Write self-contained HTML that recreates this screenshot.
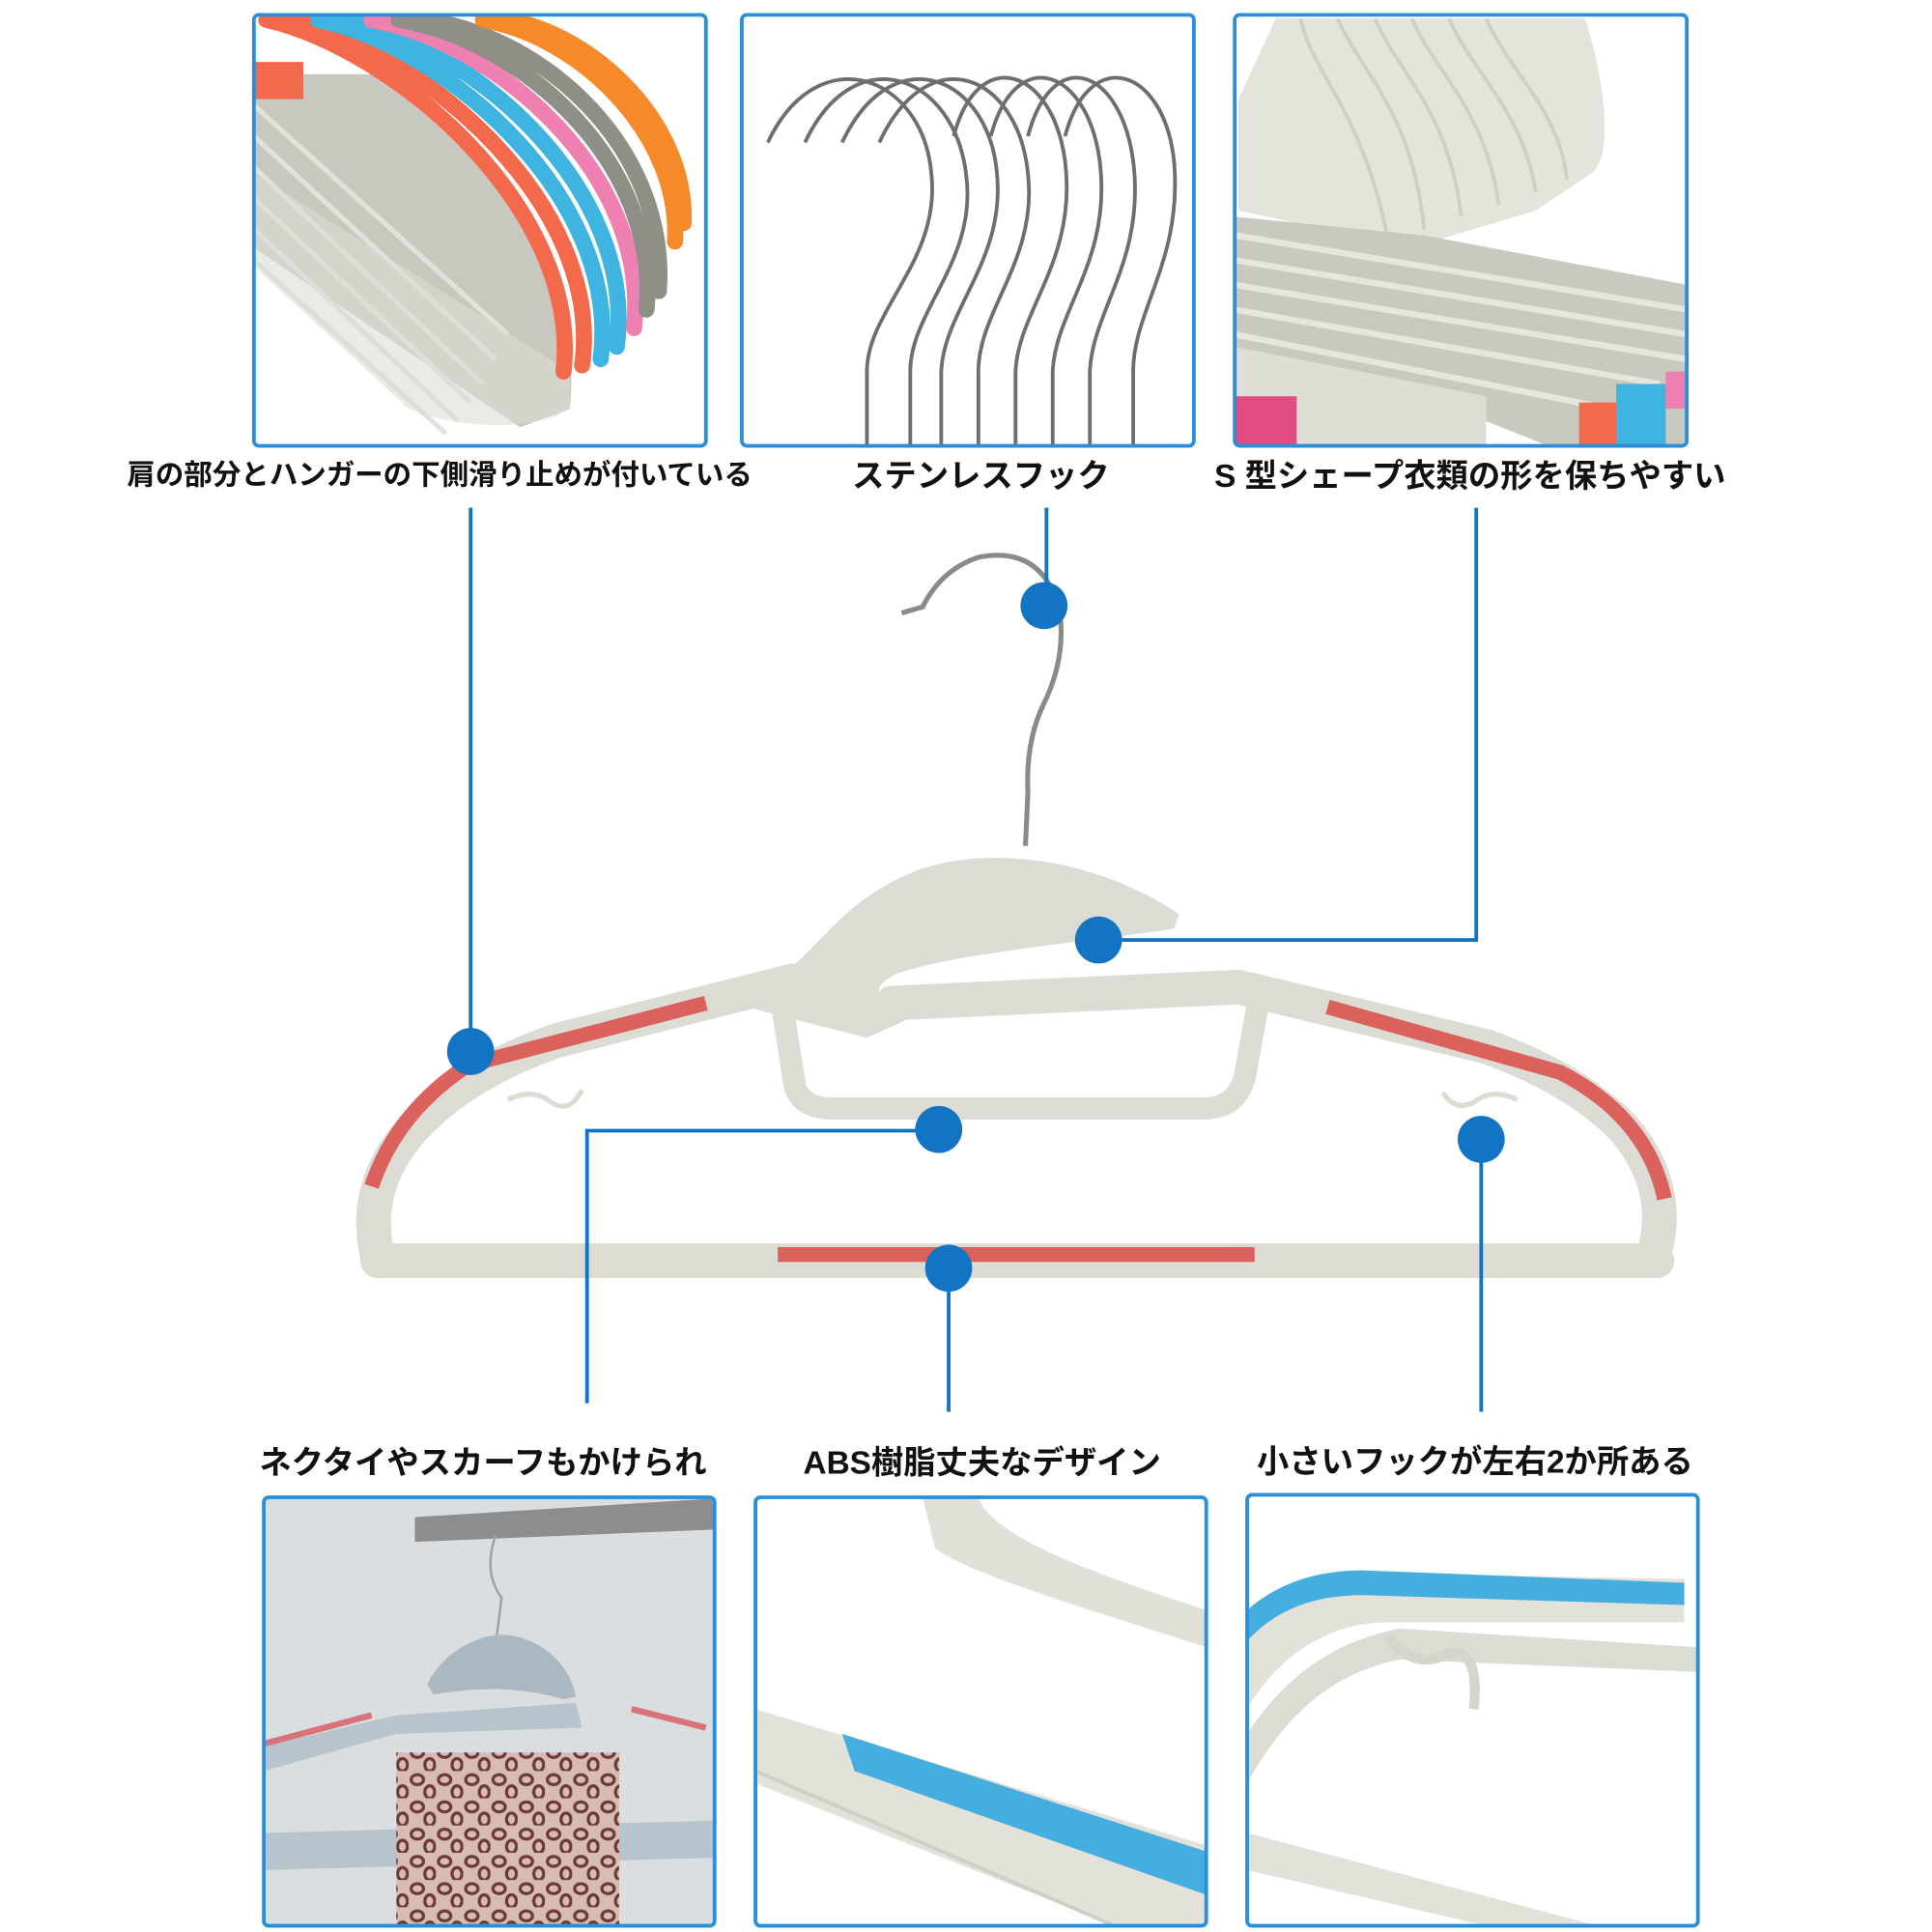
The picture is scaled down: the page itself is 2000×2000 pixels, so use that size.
<!DOCTYPE html>
<html><head><meta charset="utf-8">
<style>
html,body{margin:0;padding:0;background:#fff;}
svg{display:block;}
text{font-family:"Liberation Sans","Noto Sans CJK JP",sans-serif;font-weight:bold;fill:#111;}
</style></head>
<body>
<svg width="2000" height="2000" viewBox="0 0 1560 1560" xmlns="http://www.w3.org/2000/svg">
<defs>
<clipPath id="c1"><rect x="205" y="12" width="365" height="348" rx="4"/></clipPath>
<clipPath id="c2"><rect x="599" y="12" width="365" height="348" rx="4"/></clipPath>
<clipPath id="c3"><rect x="997" y="12" width="365" height="348" rx="4"/></clipPath>
<clipPath id="c4"><rect x="213" y="1209" width="364" height="346" rx="4"/></clipPath>
<clipPath id="c5"><rect x="610" y="1209" width="364" height="346" rx="4"/></clipPath>
<clipPath id="c6"><rect x="1007" y="1207" width="364" height="348" rx="4"/></clipPath>
<pattern id="leo" width="22" height="22" patternUnits="userSpaceOnUse">
<rect width="22" height="22" fill="#d8bcb4"/>
<ellipse cx="7" cy="7" rx="5" ry="4" fill="none" stroke="#6b3a34" stroke-width="2.5"/>
<ellipse cx="17" cy="17" rx="4" ry="5" fill="none" stroke="#6b3a34" stroke-width="2.5"/>
</pattern>
</defs>

<!-- Panel 1 -->
<g clip-path="url(#c1)">
<rect x="205" y="12" width="365" height="348" fill="#fff"/>
<path d="M205,60 L300,60 C420,140 470,250 460,330 L420,345 L205,200 Z" fill="#c8c8c1"/>
<g fill="none" stroke="#e2e2dc" stroke-width="4">
<path d="M205,110 L400,290"/><path d="M205,135 L390,310"/><path d="M205,160 L380,325"/><path d="M205,185 L370,340"/><path d="M205,85 L410,270"/><path d="M205,210 L360,350"/>
</g>
<path d="M205,215 L330,330 C380,350 440,345 460,330 L460,300 L205,140 Z" fill="#dcdcd6" opacity="0.6"/>
<g fill="none" stroke-width="13" stroke-linecap="round">
<path d="M215,16 C320,40 470,170 455,300" stroke="#f26a4b"/>
<path d="M235,16 C340,40 488,165 470,295" stroke="#f26a4b"/>
<path d="M257,16 C360,38 502,160 485,290" stroke="#3fb4e0"/>
<path d="M279,16 C380,36 515,152 498,280" stroke="#3fb4e0"/>
<path d="M300,16 C400,34 525,140 512,265" stroke="#ef80b2"/>
<path d="M322,16 C420,32 533,130 522,250" stroke="#8f8f88"/>
<path d="M344,16 C440,30 540,120 532,235" stroke="#8f8f88"/>
<path d="M390,16 C470,30 550,110 545,195" stroke="#f58a2b"/>
<path d="M410,16 C480,28 555,100 552,180" stroke="#f58a2b"/>
</g>
<rect x="205" y="50" width="40" height="30" fill="#f26a4b"/>
</g>
<rect x="205" y="12" width="365" height="348" rx="4" fill="none" stroke="#2a8fd8" stroke-width="3"/>

<!-- Panel 2 -->
<g clip-path="url(#c2)">
<rect x="599" y="12" width="365" height="348" fill="#fff"/>
<g fill="none" stroke="#6e6e6e" stroke-width="3">
<path d="M700,365 L700,300 C700,250 760,210 752,140 C745,60 660,30 620,115"/>
<path d="M735,365 L735,300 C735,250 790,210 780,140 C770,60 690,30 650,115"/>
<path d="M760,365 L760,300 C762,250 812,210 805,140 C798,60 720,30 680,115"/>
<path d="M790,365 L790,300 C790,250 838,210 830,140 C822,60 750,30 710,115"/>
<path d="M820,365 L820,300 C822,250 870,210 860,130 C850,55 790,35 770,110"/>
<path d="M850,365 L850,300 C852,250 898,210 888,130 C878,55 820,35 800,110"/>
<path d="M880,365 L880,300 C882,250 925,210 915,130 C905,55 850,35 830,110"/>
<path d="M915,365 L915,300 C915,250 955,210 948,130 C940,55 880,35 860,110"/>
</g>
</g>
<rect x="599" y="12" width="365" height="348" rx="4" fill="none" stroke="#2a8fd8" stroke-width="3"/>

<!-- Panel 3 -->
<g clip-path="url(#c3)">
<rect x="997" y="12" width="365" height="348" fill="#fff"/>
<path d="M1000,80 L1030,15 L1280,15 C1300,80 1300,130 1285,140 L1240,170 L1140,200 L1000,170 Z" fill="#e4e4dc"/>
<g fill="none" stroke="#cfcfc6" stroke-width="3">
<path d="M1050,15 C1060,60 1100,90 1120,190"/><path d="M1080,15 C1100,60 1140,90 1150,185"/><path d="M1110,15 C1130,60 1170,90 1180,175"/><path d="M1140,15 C1160,60 1200,90 1210,165"/><path d="M1170,15 C1190,60 1230,90 1240,155"/><path d="M1200,15 C1220,60 1260,90 1265,145"/>
</g>
<path d="M997,175 L1150,190 L1362,230 L1362,360 L1250,360 L1150,320 L997,300 Z" fill="#c9c9c0"/>
<g fill="none" stroke="#e6e6df" stroke-width="5">
<path d="M997,190 L1362,250"/><path d="M997,210 L1362,270"/><path d="M997,230 L1362,290"/><path d="M997,250 L1340,310"/><path d="M997,270 L1300,330"/>
</g>
<path d="M997,280 L1200,320 L1200,360 L997,360 Z" fill="#deded7"/>
<rect x="997" y="320" width="50" height="40" fill="#e24c82"/>
<rect x="1275" y="325" width="30" height="35" fill="#f26a4b"/>
<rect x="1305" y="310" width="40" height="50" fill="#3fb4e0"/>
<rect x="1345" y="300" width="17" height="30" fill="#ef80b2"/>
</g>
<rect x="997" y="12" width="365" height="348" rx="4" fill="none" stroke="#2a8fd8" stroke-width="3"/>

<!-- Top labels -->
<text x="355" y="391" font-size="23" text-anchor="middle">肩の部分とハンガーの下側滑り止めが付いている</text>
<text x="792" y="393" font-size="26" text-anchor="middle">ステンレスフック</text>
<text x="1187" y="393" font-size="26" text-anchor="middle">S 型シェープ衣類の形を保ちやすい</text>

<!-- Hanger -->
<g fill="none" stroke="#dcdcd5" stroke-linecap="round" stroke-linejoin="round">
<path d="M305,1018 L1338,1018" stroke-width="28"/>
<path d="M305,1015 Q292,960 330,915 Q370,868 450,840 L640,792" stroke-width="28"/>
<path d="M1335,1015 Q1352,958 1310,910 Q1270,870 1200,845 L1000,797 L720,810" stroke-width="28"/>
<path d="M632,815 L642,878 Q648,895 672,895 L972,895 Q998,895 1005,870 L1015,815" stroke-width="18"/>
</g>
<path d="M600,805 C655,785 665,735 735,705 C790,682 880,690 952,738 L948,750 C880,760 770,770 725,786 C700,796 705,815 735,822 L700,838 L610,815 Z" fill="#dcdcd5"/>
<g fill="none" stroke="#dcdcd5" stroke-width="4">
<path d="M410,888 Q430,878 445,890 Q460,900 470,880"/>
<path d="M1225,888 Q1205,878 1190,890 Q1175,898 1165,882"/>
</g>
<g fill="none" stroke="#d9534f" stroke-width="12" opacity="0.9">
<path d="M300,958 Q320,898 378,860 L570,810"/>
<path d="M1072,813 L1260,866 Q1330,902 1344,968"/>
<path d="M628,1013 L1013,1013"/>
</g>
<path d="M828,683 L830,640 Q828,600 842,570 Q862,530 855,490 Q840,440 790,450 Q760,460 745,490 L728,495" fill="none" stroke="#8a8a8a" stroke-width="4"/>

<!-- Connectors -->
<g fill="none" stroke="#1474c4" stroke-width="3">
<path d="M380,410 L380,849"/>
<path d="M845,410 L845,489"/>
<path d="M1192,410 L1192,759 L887,759"/>
<path d="M758,913 L474,913 L474,1133"/>
<path d="M1196,920 L1196,1140"/>
<path d="M766,1024 L766,1140"/>
</g>
<g fill="#1474c4">
<circle cx="380" cy="849" r="19"/>
<circle cx="843" cy="489" r="19"/>
<circle cx="887" cy="759" r="19"/>
<circle cx="758" cy="912" r="19"/>
<circle cx="1196" cy="920" r="19"/>
<circle cx="766" cy="1024" r="19"/>
</g>

<!-- Bottom labels -->
<text x="390" y="1190" font-size="26" text-anchor="middle">ネクタイやスカーフもかけられ</text>
<text x="793" y="1190" font-size="26" text-anchor="middle">ABS樹脂丈夫なデザイン</text>
<text x="1191" y="1189" font-size="26" text-anchor="middle">小さいフックが左右2か所ある</text>

<!-- Panel 4 -->
<g clip-path="url(#c4)">
<rect x="213" y="1209" width="364" height="346" fill="#dadee1"/>
<path d="M335,1225 L577,1210 L577,1235 L335,1245 Z" fill="#8d8d8d"/>
<path d="M400,1240 Q390,1270 405,1290 L400,1330" fill="none" stroke="#9aa4aa" stroke-width="2"/>
<path d="M345,1360 C360,1330 390,1320 405,1320 C430,1320 460,1340 465,1370 L455,1372 C420,1362 390,1362 350,1368 Z" fill="#a9b8c2"/>
<path d="M213,1410 L320,1385 L465,1375 L470,1395 L320,1400 L213,1430 Z" fill="#b8c4cb"/>
<path d="M213,1408 L300,1385" stroke="#d9737a" stroke-width="5"/>
<path d="M510,1380 L570,1395" stroke="#d9737a" stroke-width="5"/>
<path d="M213,1480 L577,1470 L577,1500 L213,1510 Z" fill="#b8c4cb"/>
<rect x="320" y="1415" width="180" height="140" fill="url(#leo)"/>
</g>
<rect x="213" y="1209" width="364" height="346" rx="4" fill="none" stroke="#2a8fd8" stroke-width="3"/>

<!-- Panel 5 -->
<g clip-path="url(#c5)">
<rect x="610" y="1209" width="364" height="346" fill="#fff"/>
<path d="M745,1209 L790,1209 C800,1240 880,1270 974,1300 L974,1330 C880,1300 780,1270 755,1250 Z" fill="#e0e0d8"/>
<path d="M610,1380 L974,1490 L974,1555 L900,1555 L610,1440 Z" fill="#e2e2db"/>
<path d="M680,1400 L974,1495 L974,1530 L690,1430 Z" fill="#45aede"/>
<path d="M610,1430 L900,1555" stroke="#cfcfc7" stroke-width="3"/>
</g>
<rect x="610" y="1209" width="364" height="346" rx="4" fill="none" stroke="#2a8fd8" stroke-width="3"/>

<!-- Panel 6 -->
<g clip-path="url(#c6)">
<rect x="1007" y="1207" width="364" height="348" fill="#fff"/>
<path d="M1007,1320 C1030,1290 1060,1272 1100,1270 L1360,1275 L1360,1310 L1120,1310 C1070,1310 1030,1340 1007,1380 Z" fill="#e2e2db"/>
<path d="M1007,1300 C1030,1280 1060,1268 1100,1268 L1360,1278 L1360,1296 L1100,1288 C1060,1288 1030,1300 1007,1325 Z" fill="#45aede"/>
<path d="M1007,1400 C1040,1350 1080,1325 1130,1315 L1371,1330 L1371,1350 L1130,1340 C1080,1350 1040,1380 1007,1440 Z" fill="#dcdcd4"/>
<path d="M1120,1320 Q1140,1350 1170,1335 Q1195,1330 1190,1380" fill="none" stroke="#d5d5cc" stroke-width="8"/>
<path d="M1007,1480 L1290,1555 L1200,1555 L1007,1510 Z" fill="#e2e2db"/>
</g>
<rect x="1007" y="1207" width="364" height="348" rx="4" fill="none" stroke="#2a8fd8" stroke-width="3"/>
</svg>
</body></html>
